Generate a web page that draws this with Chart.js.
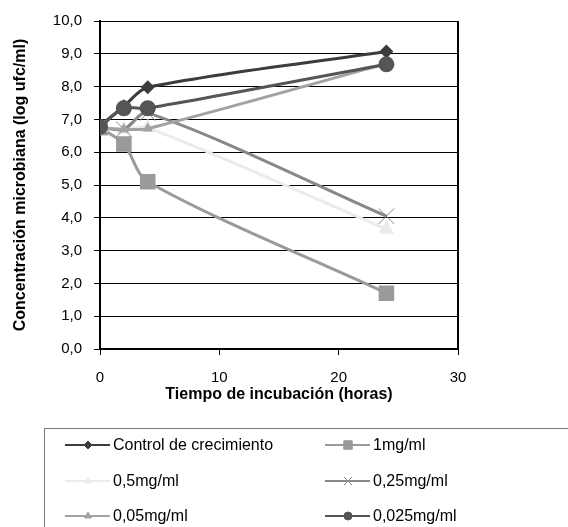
<!DOCTYPE html>
<html>
<head>
<meta charset="utf-8">
<script src="https://cdn.jsdelivr.net/npm/chart.js@4"></script>
<style>
  html, body { margin: 0; padding: 0; background: #fff; }
  canvas { display: block; }
</style>
</head>
<body>
<canvas id="chart" width="568" height="527"></canvas>
<script>
// tiempo de incubación (horas)
const horas = [0, 2, 4, 24];

const seriesNames = ['Control de crecimiento', '1mg/ml', '0,5mg/ml', '0,25mg/ml', '0,05mg/ml', '0,025mg/ml'];
const control = [6.8, 7.4, 7.98, 9.07];
const c1 = [6.75, 6.25, 5.1, 1.7];
const c05 = [6.75, 6.7, 6.75, 3.65];
const c025 = [6.75, 6.7, 7.2, 4.05];
const c005 = [6.75, 6.7, 6.72, 8.7];
const c0025 = [6.77, 7.34, 7.34, 8.68];

const yTicks = [0, 1, 2, 3, 4, 5, 6, 7, 8, 9, 10];
const xTicks = [0, 10, 20, 30];

const styles = [
  { color: '#3c3c3c', pointStyle: 'rectRot', radius: 7 },
  { color: '#9a9a9a', pointStyle: 'rect', radius: 11 },
  { color: '#ebebeb', pointStyle: 'triangle', radius: 9 },
  { color: '#888888', pointStyle: 'crossRot', radius: 11 },
  { color: '#a2a2a2', pointStyle: 'triangle', radius: 6 },
  { color: '#555555', pointStyle: 'circle', radius: 8 }
];

const values = [control, c1, c05, c025, c005, c0025];

const datasets = values.map((vals, i) => ({
  label: seriesNames[i],
  data: vals.map((v, j) => ({ x: horas[j], y: v })),
  borderColor: styles[i].color,
  backgroundColor: styles[i].color,
  pointBorderColor: styles[i].color,
  pointBackgroundColor: styles[i].color,
  pointStyle: styles[i].pointStyle,
  pointRadius: styles[i].radius,
  pointBorderWidth: styles[i].pointStyle === 'crossRot' ? 1 : 0,
  borderWidth: 3,
  tension: 0.3,
  fill: false,
  order: values.length - i
}));

// legend drawn in a box under the chart, two columns
const boxLegend = {
  id: 'boxLegend',
  afterDraw(chart) {
    const ctx = chart.ctx;
    ctx.save();
    ctx.strokeStyle = '#7a7a7a';
    ctx.lineWidth = 1;
    ctx.strokeRect(44.5, 428.5, 700, 200);
    const cols = [65, 325];
    const rows = [445, 481, 516];
    ctx.font = '16px "Liberation Sans", Arial, sans-serif';
    ctx.textBaseline = 'middle';
    ctx.fillStyle = '#000';
    chart.data.datasets.forEach((ds, i) => {
      const x = cols[i % 2];
      const y = rows[Math.floor(i / 2)];
      ctx.strokeStyle = ds.borderColor;
      ctx.lineWidth = 2;
      ctx.beginPath();
      ctx.moveTo(x, y);
      ctx.lineTo(x + 45, y);
      ctx.stroke();
      ctx.fillStyle = ds.pointBackgroundColor;
      ctx.strokeStyle = ds.pointBorderColor;
      ctx.lineWidth = 1;
      Chart.helpers.drawPoint(ctx, {
        pointStyle: ds.pointStyle,
        radius: ds.pointStyle === 'rect' ? 6 : (ds.pointStyle === 'crossRot' ? 6 : 4),
        rotation: 0,
        borderWidth: 1
      }, x + 23, y);
      ctx.fillStyle = '#000';
      ctx.fillText(ds.label, x + 48, y + 1);
    });
    ctx.restore();
  }
};

// right border of the plot area
const plotBorder = {
  id: 'plotBorder',
  afterDraw(chart) {
    const { ctx, chartArea: a } = chart;
    ctx.save();
    ctx.strokeStyle = '#000';
    ctx.lineWidth = 2;
    ctx.beginPath();
    ctx.moveTo(a.right, a.top);
    ctx.lineTo(a.right, a.bottom);
    ctx.stroke();
    ctx.restore();
  }
};

new Chart(document.getElementById('chart'), {
  type: 'line',
  data: { datasets },
  options: {
    responsive: false,
    animation: false,
    layout: { padding: { left: 0, top: 18, right: 110, bottom: 118 } },
    plugins: {
      legend: { display: false },
      tooltip: { enabled: false }
    },
    scales: {
      x: {
        type: 'linear',
        min: 0,
        max: 30,
        afterFit: s => { s.height = 60; },
        afterBuildTicks: s => { s.ticks = xTicks.map(v => ({ value: v })); },
        grid: { display: true, drawOnChartArea: false, color: '#000', tickLength: 6 },
        border: { color: '#000', width: 2 },
        ticks: {
          color: '#000',
          padding: 14,
          font: { family: '"Liberation Sans", Arial, sans-serif', size: 15 }
        },
        title: {
          display: true,
          text: 'Tiempo de incubación (horas)',
          color: '#000',
          padding: { top: 0, bottom: 5 },
          font: { family: '"Liberation Sans", Arial, sans-serif', size: 16, weight: 'bold' }
        }
      },
      y: {
        min: 0,
        max: 10,
        afterFit: s => { s.width = 100; },
        afterBuildTicks: s => { s.ticks = yTicks.map(v => ({ value: v })); },
        grid: { color: '#000', lineWidth: 1, tickLength: 6 },
        border: { color: '#000', width: 2 },
        ticks: {
          color: '#000',
          padding: 12,
          callback: v => v.toFixed(1).replace('.', ','),
          font: { family: '"Liberation Sans", Arial, sans-serif', size: 15 }
        },
        title: {
          display: true,
          text: 'Concentración microbiana (log ufc/ml)',
          color: '#000',
          padding: { top: 11, bottom: 0 },
          font: { family: '"Liberation Sans", Arial, sans-serif', size: 16, weight: 'bold' }
        }
      }
    }
  },
  plugins: [boxLegend, plotBorder]
});
</script>
</body>
</html>
